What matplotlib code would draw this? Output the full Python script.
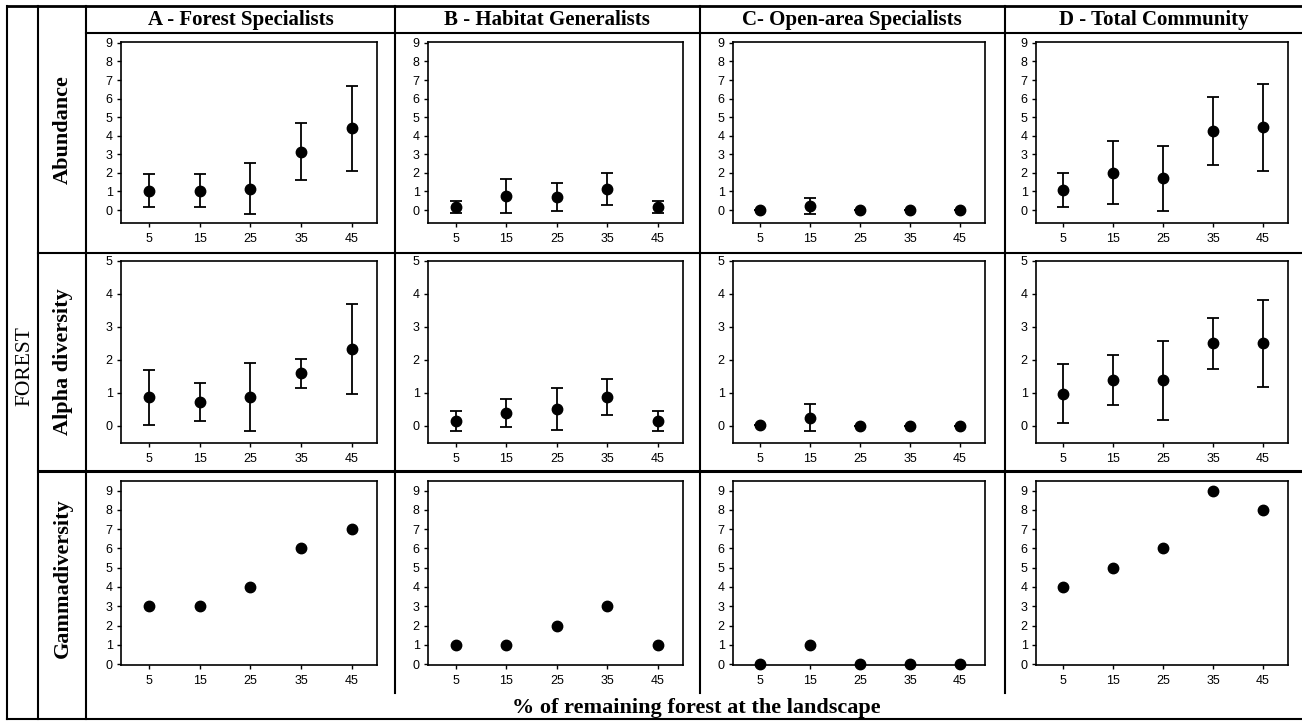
import matplotlib
matplotlib.use("Agg")
import matplotlib.pyplot as plt
from matplotlib.lines import Line2D

W, H = 1302, 721

# x categories: % remaining forest
forest = [5, 15, 25, 35, 45]

groups = ["A - Forest Specialists", "B - Habitat Generalists",
          "C- Open-area Specialists", "D - Total Community"]
rows = ["Abundance", "Alpha diversity", "Gammadiversity"]

# Abundance (mean, error)
abund_mean = {
    "A": [1.05, 1.05, 1.15, 3.15, 4.4],
    "B": [0.15, 0.75, 0.7, 1.14, 0.15],
    "C": [0.0, 0.2, 0.0, 0.0, 0.0],
    "D": [1.08, 2.0, 1.72, 4.26, 4.45],
}
abund_err = {
    "A": [0.9, 0.9, 1.38, 1.54, 2.3],
    "B": [0.32, 0.9, 0.78, 0.86, 0.32],
    "C": [0.0, 0.44, 0.0, 0.0, 0.0],
    "D": [0.93, 1.7, 1.75, 1.81, 2.36],
}

# Alpha diversity (mean, error)
alpha_mean = {
    "A": [0.86, 0.73, 0.87, 1.59, 2.34],
    "B": [0.15, 0.38, 0.5, 0.87, 0.15],
    "C": [0.02, 0.25, 0.0, 0.0, 0.0],
    "D": [0.98, 1.38, 1.38, 2.5, 2.5],
}
alpha_err = {
    "A": [0.82, 0.58, 1.04, 0.44, 1.36],
    "B": [0.3, 0.42, 0.64, 0.54, 0.3],
    "C": [0.0, 0.42, 0.0, 0.0, 0.0],
    "D": [0.89, 0.76, 1.2, 0.78, 1.31],
}

# Gamma diversity
gamma = {
    "A": [3, 3, 4, 6, 7],
    "B": [1, 1, 2, 3, 1],
    "C": [0, 1, 0, 0, 0],
    "D": [4, 5, 6, 9, 8],
}

plt.rcParams['font.family'] = ['Liberation Sans', 'DejaVu Sans']

fig = plt.figure(figsize=(W / 100, H / 100), dpi=100)

# panel boxes in pixels
col_px = [(121, 377), (428, 683), (733, 985), (1036, 1288)]
row_px = [(42, 223), (261, 443), (481, 665)]
ylims = [(-0.7, 9.05), (-0.52, 5.0), (-0.05, 9.5)]
yticks = [range(0, 10), range(0, 6), range(0, 10)]


def px_rect(x0, x1, y0, y1):
    return [x0 / W, 1 - y1 / H, (x1 - x0) / W, (y1 - y0) / H]


keys = ["A", "B", "C", "D"]
for r in range(3):
    for c, k in enumerate(keys):
        ax = fig.add_axes(px_rect(col_px[c][0], col_px[c][1], row_px[r][0], row_px[r][1]))
        if r == 0:
            ax.errorbar(forest, abund_mean[k], yerr=abund_err[k], fmt='o', color='black',
                        ms=7.5, elinewidth=1.3, capsize=4.5, capthick=1.3)
        elif r == 1:
            ax.errorbar(forest, alpha_mean[k], yerr=alpha_err[k], fmt='o', color='black',
                        ms=7.5, elinewidth=1.3, capsize=4.5, capthick=1.3)
        else:
            ax.plot(forest, gamma[k], 'o', color='black', ms=7.5, clip_on=False)
        ax.set_xlim(-0.5, 50)
        ax.set_ylim(*ylims[r])
        ax.set_xticks(forest)
        ax.set_yticks(list(yticks[r]))
        ax.tick_params(axis='both', direction='out', length=3, width=1, labelsize=9)
        ax.tick_params(axis='x', pad=4)
        ax.tick_params(axis='y', pad=3)
        for s in ax.spines.values():
            s.set_linewidth(1.2)

# table grid lines (pixel coords)
def hline(y, x0, x1, lw=1.5):
    fig.add_artist(Line2D([x0 / W, x1 / W], [1 - y / H, 1 - y / H], color='black', lw=lw))


def vline(x, y0, y1, lw=1.5):
    fig.add_artist(Line2D([x / W, x / W], [1 - y0 / H, 1 - y1 / H], color='black', lw=lw))


hline(6, 7, W, lw=2)
hline(719, 7, W, lw=1.5)
vline(7, 6, 719, lw=1.5)
vline(38, 6, 719)
vline(86, 6, 719)
hline(33, 86, W)
hline(253, 38, W)
hline(471, 38, W, lw=2.2)
for x in [395, 700, 1005]:
    vline(x, 6, 693)

serif = ['Liberation Serif', 'DejaVu Serif']
col_centers = [241, 547, 852, 1154]
for cx, g in zip(col_centers, groups):
    fig.text(cx / W, 1 - 20 / H, g, ha='center', va='center', fontsize=15,
             fontweight='bold', family=serif)

for y, lab in zip([130, 362, 578], rows):
    fig.text(63 / W, 1 - y / H, lab, ha='center', va='center', rotation=90,
             fontsize=16, fontweight='bold', family=serif)

fig.text(25 / W, 1 - 366 / H, "FOREST", ha='center', va='center', rotation=90,
         fontsize=15.5, family=serif)

fig.text(696 / W, 1 - 708 / H, "% of remaining forest at the landscape", ha='center',
         va='center', fontsize=16, fontweight='bold', family=serif)

fig.savefig("out.png", dpi=100)
